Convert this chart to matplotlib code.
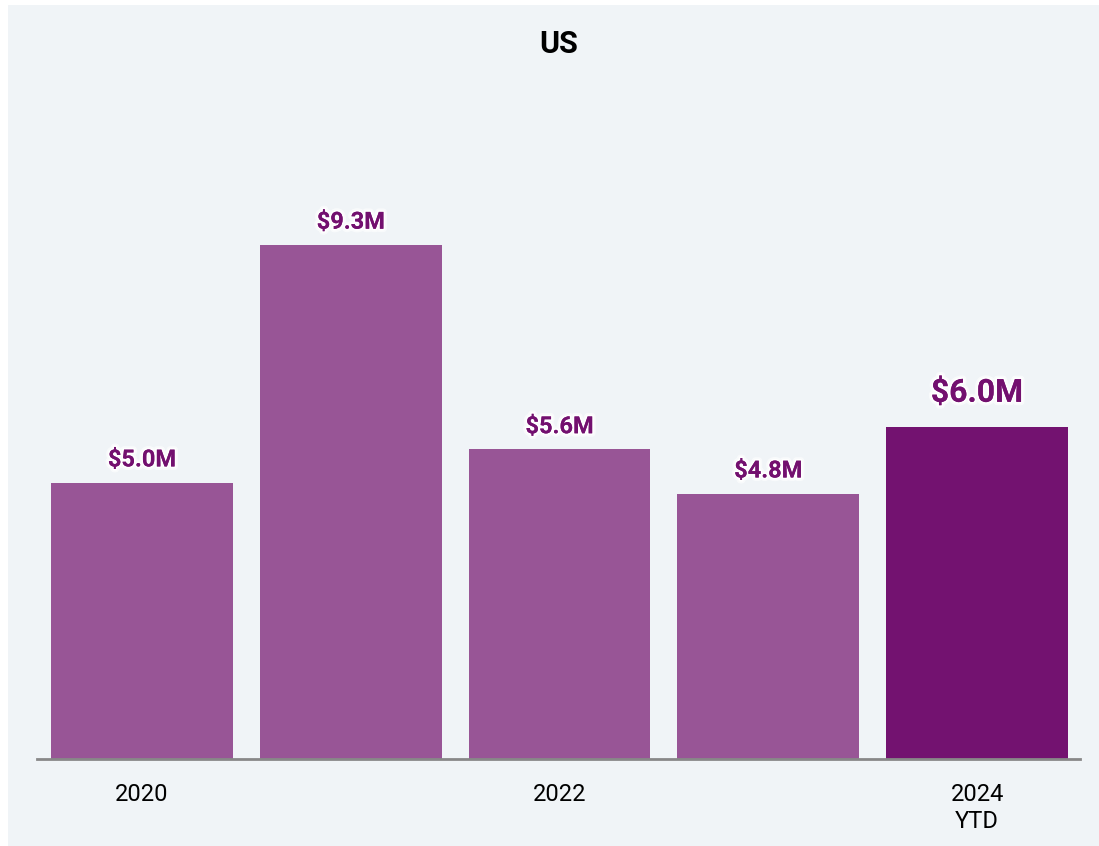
import matplotlib
matplotlib.use("Agg")
import matplotlib.pyplot as plt
import matplotlib.patheffects as pe
from matplotlib.patches import Rectangle

years = ["2020", "2021", "2022", "2023", "2024\nYTD"]
tick_text = ["2020", "", "2022", "", "2024\nYTD"]
values = [5.0, 9.3, 5.6, 4.8, 6.0]
value_labels = ["$5.0M", "$9.3M", "$5.6M", "$4.8M", "$6.0M"]

bg = "#f0f4f7"
bar_color = "#985596"
last_color = "#731270"
label_color = "#73106f"

plt.rcParams["font.family"] = ["Roboto", "DejaVu Sans"]

W, H = 1099, 846
fig = plt.figure(figsize=(W / 100, H / 100), dpi=100)
fig.patch.set_facecolor("white")
fig.patches.append(Rectangle((8 / W, 0), 1 - 8 / W, 1 - 5 / H,
                             transform=fig.transFigure, facecolor=bg,
                             edgecolor="none", zorder=-10))

ax = fig.add_axes([37 / W, 87 / H, (1080 - 37) / W, (759 - 90) / H])
ax.set_facecolor("none")

x = range(len(years))
colors = [bar_color] * (len(years) - 1) + [last_color]
ax.bar(x, values, width=0.87, color=colors, zorder=2)

# soft white glow behind the value labels
halo = [pe.withStroke(linewidth=5, foreground="white", alpha=0.6),
        pe.withStroke(linewidth=2.5, foreground="white"),
        pe.Normal()]
for i, (v, lab) in enumerate(zip(values, value_labels)):
    last = i == len(values) - 1
    ax.annotate(lab, (i, v), xytext=(0, 14 if last else 8),
                textcoords="offset points", ha="center", va="bottom",
                fontsize=23 if last else 17, fontweight="bold",
                color=label_color, path_effects=halo)

ax.set_xlim(-0.503, 4.493)
ax.set_ylim(0, 12.1)
ax.set_xticks(list(x))
ax.set_xticklabels(tick_text, fontsize=17, linespacing=1.25)
ax.tick_params(axis="x", length=0, pad=17)
ax.set_yticks([])
for s in ["top", "right", "left"]:
    ax.spines[s].set_visible(False)
ax.spines["bottom"].set_color("#888888")
ax.spines["bottom"].set_linewidth(2)
ax.spines["bottom"].set_zorder(3)

fig.text(559 / W, 1 - 44 / H, "US", ha="center", va="center",
         fontsize=22, fontweight="bold", color="black")

fig.savefig("out.png", dpi=100)
